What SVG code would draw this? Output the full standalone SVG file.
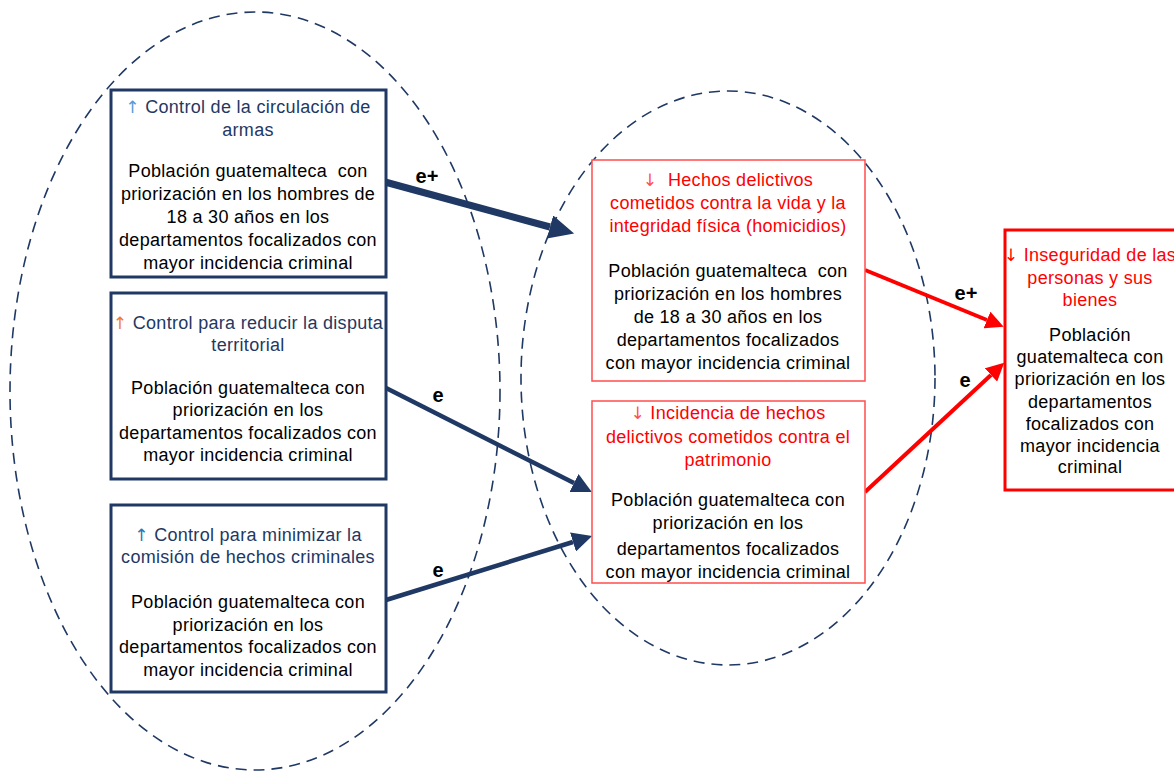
<svg xmlns="http://www.w3.org/2000/svg" width="1174" height="778" viewBox="0 0 1174 778">
<style>
text{font-family:"Liberation Sans",Arial,sans-serif;font-size:18px;letter-spacing:0.3px;text-anchor:middle;white-space:pre}
.body{fill:#000}
.t{fill:#1f3864}
.r{fill:#ff0000}
.ar{font-family:"DejaVu Sans",sans-serif;font-size:17px}
.ell{fill:none;stroke:#1f3864;stroke-width:1.6;stroke-dasharray:11 7}
.nb{fill:#fff;stroke:#1f3864;stroke-width:3}
.rb{fill:#fff;stroke:#ff4d4d;stroke-width:1.5}
.rb2{fill:#fff;stroke:#ff0000;stroke-width:3}
.lab{font-size:20px;font-weight:bold;fill:#000;letter-spacing:0}
</style>
<defs>
<marker id="ahBig" markerUnits="userSpaceOnUse" markerWidth="26" markerHeight="24" refX="0" refY="12" orient="auto"><path d="M0,0 L25,12 L0,24 z" fill="#1f3864"/></marker>
<marker id="ahNavy" markerUnits="userSpaceOnUse" markerWidth="22" markerHeight="20" refX="0" refY="10" orient="auto"><path d="M0,0 L20,10 L0,20 z" fill="#1f3864"/></marker>
<marker id="ahRed" markerUnits="userSpaceOnUse" markerWidth="20" markerHeight="18" refX="0" refY="9" orient="auto"><path d="M0,0 L18,9 L0,18 z" fill="#ff0000"/></marker>
</defs>
<rect width="1174" height="778" fill="#fff"/>
<g id="groups">
<ellipse class="ell" cx="255" cy="391" rx="245" ry="379"/>
<ellipse class="ell" cx="728" cy="378" rx="207" ry="287"/>
</g>
<g id="connectors">
<line x1="385" y1="182" x2="550" y2="227" stroke="#1f3864" stroke-width="7" marker-end="url(#ahBig)"/>
<line x1="386" y1="388" x2="574" y2="483" stroke="#1f3864" stroke-width="4.5" marker-end="url(#ahNavy)"/>
<line x1="386" y1="600" x2="573" y2="542" stroke="#1f3864" stroke-width="4.5" marker-end="url(#ahNavy)"/>
<line x1="865" y1="270" x2="987" y2="320" stroke="#ff0000" stroke-width="4" marker-end="url(#ahRed)"/>
<line x1="865" y1="492" x2="991" y2="375" stroke="#ff0000" stroke-width="4" marker-end="url(#ahRed)"/>
<text class="lab" x="427" y="183">e+</text>
<text class="lab" x="438" y="402">e</text>
<text class="lab" x="438" y="577">e</text>
<text class="lab" x="966" y="300">e+</text>
<text class="lab" x="965" y="387">e</text>
</g>
<g id="n1">
<rect class="nb" x="111" y="90" width="275" height="187"/>
<text class="t" x="248" y="113"><tspan class="ar" fill="#5b9bd5">↑</tspan> Control de la circulación de</text>
<text class="t" x="248" y="136">armas</text>
<text class="body" x="248" y="177">Población guatemalteca  con</text>
<text class="body" x="248" y="200">priorización en los hombres de</text>
<text class="body" x="248" y="223">18 a 30 años en los</text>
<text class="body" x="248" y="246">departamentos focalizados con</text>
<text class="body" x="248" y="269">mayor incidencia criminal</text>
</g>
<g id="n2">
<rect class="nb" x="111" y="293" width="275" height="186"/>
<text class="t" x="248" y="329"><tspan class="ar" fill="#ed7d31">↑</tspan> Control para reducir la disputa</text>
<text class="t" x="248" y="351">territorial</text>
<text class="body" x="248" y="394">Población guatemalteca con</text>
<text class="body" x="248" y="416">priorización en los</text>
<text class="body" x="248" y="439">departamentos focalizados con</text>
<text class="body" x="248" y="461">mayor incidencia criminal</text>
</g>
<g id="n3">
<rect class="nb" x="111" y="505" width="275" height="187"/>
<text class="t" x="248" y="541"><tspan class="ar" fill="#2e75b6">↑</tspan> Control para minimizar la</text>
<text class="t" x="248" y="563">comisión de hechos criminales</text>
<text class="body" x="248" y="608">Población guatemalteca con</text>
<text class="body" x="248" y="631">priorización en los</text>
<text class="body" x="248" y="653">departamentos focalizados con</text>
<text class="body" x="248" y="676">mayor incidencia criminal</text>
</g>
<g id="n4">
<rect class="rb" x="592" y="160" width="273" height="221"/>
<text class="r" x="728" y="186"><tspan class="ar" fill="#ff5050">↓</tspan>  Hechos delictivos</text>
<text class="r" x="728" y="209">cometidos contra la vida y la</text>
<text class="r" x="728" y="232">integridad física (homicidios)</text>
<text class="body" x="728" y="277">Población guatemalteca  con</text>
<text class="body" x="728" y="300">priorización en los hombres</text>
<text class="body" x="728" y="323">de 18 a 30 años en los</text>
<text class="body" x="728" y="346">departamentos focalizados</text>
<text class="body" x="728" y="369">con mayor incidencia criminal</text>
</g>
<g id="n5">
<rect class="rb" x="592" y="401" width="273" height="182"/>
<text class="r" x="728" y="419"><tspan class="ar" fill="#ff5050">↓</tspan> Incidencia de hechos</text>
<text class="r" x="728" y="443">delictivos cometidos contra el</text>
<text class="r" x="728" y="466">patrimonio</text>
<text class="body" x="728" y="506">Población guatemalteca con</text>
<text class="body" x="728" y="529">priorización en los</text>
<text class="body" x="728" y="555">departamentos focalizados</text>
<text class="body" x="728" y="578">con mayor incidencia criminal</text>
</g>
<g id="n6">
<rect class="rb2" x="1005" y="230" width="180" height="260"/>
<text class="r" x="1090" y="261"><tspan class="ar">↓</tspan> Inseguridad de las</text>
<text class="r" x="1090" y="284">personas y sus</text>
<text class="r" x="1090" y="306">bienes</text>
<text class="body" x="1090" y="341">Población</text>
<text class="body" x="1090" y="363">guatemalteca con</text>
<text class="body" x="1090" y="385">priorización en los</text>
<text class="body" x="1090" y="408">departamentos</text>
<text class="body" x="1090" y="430">focalizados con</text>
<text class="body" x="1090" y="452">mayor incidencia</text>
<text class="body" x="1090" y="473">criminal</text>
</g>
</svg>
